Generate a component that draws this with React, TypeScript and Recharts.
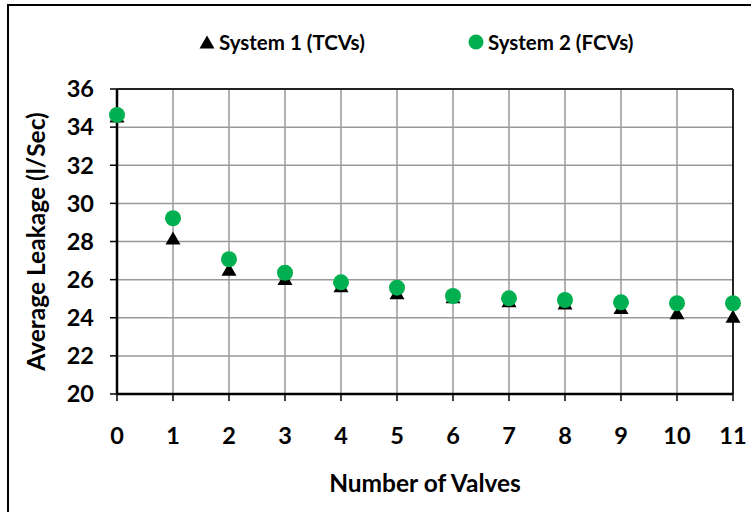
import React from 'react';
import { ScatterChart, Scatter, XAxis, YAxis, CartesianGrid, ReferenceLine, Label } from 'recharts';

// values
const VALVES = [0, 1, 2, 3, 4, 5, 6, 7, 8, 9, 10, 11];
const SYSTEM1_TCV = [34.58, 28.19, 26.55, 26.06, 25.68, 25.31, 25.1, 24.89, 24.78, 24.54, 24.26, 24.08];
const SYSTEM2_FCV = [34.64, 29.22, 27.07, 26.36, 25.86, 25.58, 25.14, 25.02, 24.93, 24.81, 24.76, 24.76];
const Y_TICKS = [20, 22, 24, 26, 28, 30, 32, 34, 36];

const FONT = "Lato, 'Open Sans', sans-serif";
const GREEN = '#00b050';

const tcvData = VALVES.map((v, i) => ({ x: v, y: SYSTEM1_TCV[i] }));
const fcvData = VALVES.map((v, i) => ({ x: v, y: SYSTEM2_FCV[i] }));

const Triangle = (props: any) => {
  const { cx, cy } = props;
  return <path d={`M${cx},${cy - 6.5} L${cx + 7.5},${cy + 6.5} L${cx - 7.5},${cy + 6.5} Z`} fill="#000" />;
};

const Dot = (props: any) => {
  const { cx, cy } = props;
  return <circle cx={cx} cy={cy} r={8} fill={GREEN} />;
};

export default function App() {
  return (
    <div style={{ position: 'absolute', left: 0, top: 0, width: 751, height: 512, overflow: 'hidden', background: '#fff', fontFamily: FONT }}>
      {/* outer frame, runs off the right and bottom edge */}
      <div style={{ position: 'absolute', left: 7, top: 4, width: 800, height: 600, border: '2px solid #000' }} />

      {/* legend */}
      <div style={{ position: 'absolute', top: 30, left: 199, display: 'flex', alignItems: 'center', fontWeight: 700, fontSize: 20.5, color: '#000' }}>
        <svg width={17} height={14} style={{ marginRight: 3 }}>
          <path d="M8,0.5 L15.5,13.5 L0.5,13.5 Z" fill="#000" />
        </svg>
        <span>System 1 (TCVs)</span>
      </div>
      <div style={{ position: 'absolute', top: 30, left: 468, display: 'flex', alignItems: 'center', fontWeight: 700, fontSize: 20.5, color: '#000' }}>
        <svg width={17} height={16} style={{ marginRight: 3 }}>
          <circle cx={8} cy={8} r={7.5} fill={GREEN} />
        </svg>
        <span>System 2 (FCVs)</span>
      </div>

      <div style={{ position: 'absolute', left: 0, top: 0 }}>
        <ScatterChart width={751} height={512} margin={{ top: 89, right: 18, bottom: 88, left: 0 }}>
          <CartesianGrid stroke="#999" strokeWidth={1.5} />
          <XAxis
            type="number"
            dataKey="x"
            domain={[0, 11]}
            ticks={VALVES}
            height={30}
            interval={0}
            tickSize={7}
            tickMargin={26}
            axisLine={{ stroke: '#000', strokeWidth: 2.5 }}
            tickLine={{ stroke: '#000', strokeWidth: 1.5 }}
            tick={{ fill: '#000', fontSize: 23.5, fontWeight: 700, fontFamily: FONT }}
          >
            <Label
              content={(p: any) => {
                const vb = p.viewBox;
                return (
                  <text x={vb.x + vb.width / 2} y={482} textAnchor="middle" dominantBaseline="central"
                    fontSize={24.5} fontWeight={700} fontFamily={FONT} fill="#000">
                    Number of Valves
                  </text>
                );
              }}
            />
          </XAxis>
          <YAxis
            type="number"
            dataKey="y"
            domain={[20, 36]}
            ticks={Y_TICKS}
            width={117}
            interval={0}
            tickSize={7}
            tickMargin={16}
            axisLine={{ stroke: '#000', strokeWidth: 2.5 }}
            tickLine={{ stroke: '#000', strokeWidth: 1.5 }}
            tick={{ fill: '#000', fontSize: 23.5, fontWeight: 700, fontFamily: FONT }}
          >
            <Label
              content={(p: any) => {
                const vb = p.viewBox;
                const cy = vb.y + vb.height / 2;
                return (
                  <text x={35} y={cy} transform={`rotate(-90, 35, ${cy})`} textAnchor="middle" dominantBaseline="central"
                    fontSize={24.5} fontWeight={700} fontFamily={FONT} fill="#000">
                    Average Leakage (l/Sec)
                  </text>
                );
              }}
            />
          </YAxis>
          <ReferenceLine y={36} stroke="#222" strokeWidth={2} />
          <ReferenceLine x={11} stroke="#222" strokeWidth={2} />
          <Scatter name="System 1 (TCVs)" data={tcvData} shape={Triangle} isAnimationActive={false} />
          <Scatter name="System 2 (FCVs)" data={fcvData} shape={Dot} isAnimationActive={false} />
        </ScatterChart>
      </div>
    </div>
  );
}
